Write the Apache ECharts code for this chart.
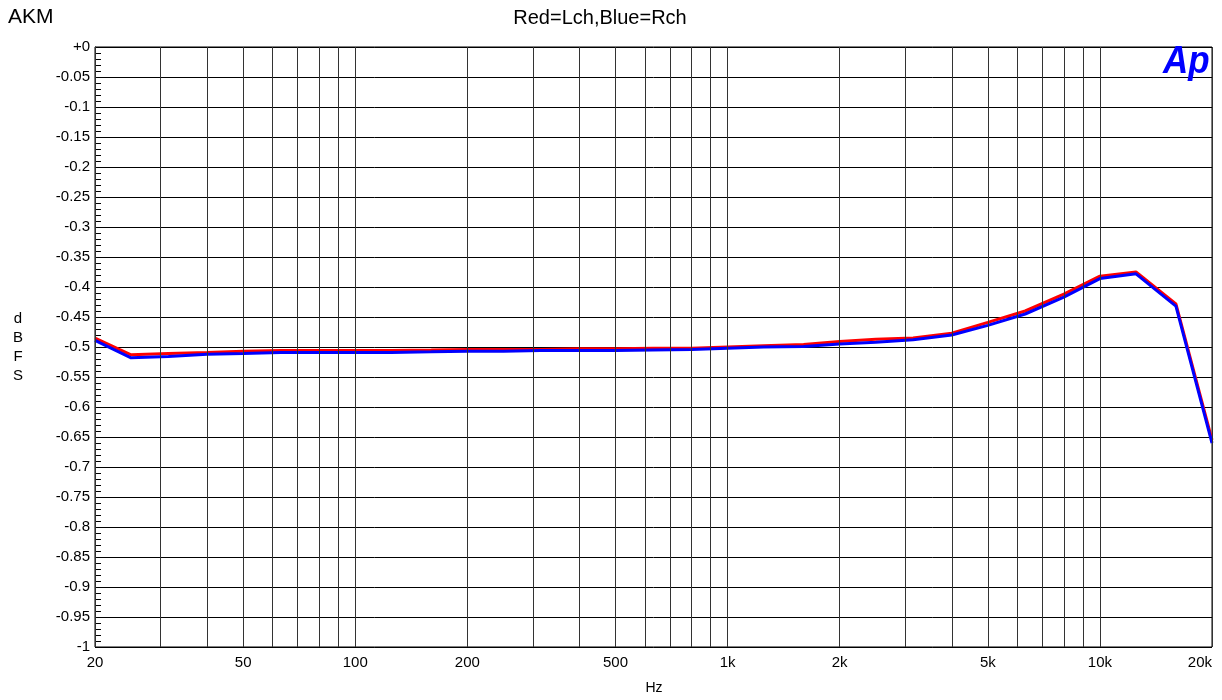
<!DOCTYPE html>
<html>
<head>
<meta charset="utf-8">
<script src="https://cdn.jsdelivr.net/npm/echarts@6/dist/echarts.min.js"></script>
<style>html,body{margin:0;padding:0;background:#fff;}#c{width:1222px;height:700px;}</style>
</head>
<body>
<div id="c"></div>
<script>
// Frequencies (Hz), 1/3-octave points
const freqs = [20,25,31.5,40,50,63,80,100,125,160,200,250,315,400,500,630,800,1000,1250,1600,2000,2500,3150,4000,5000,6300,8000,10000,12500,16000,20000];
// Red = Lch (dBFS)
const lch = [-0.485,-0.513,-0.511,-0.509,-0.507,-0.506,-0.506,-0.506,-0.506,-0.505,-0.504,-0.504,-0.504,-0.503,-0.503,-0.502,-0.502,-0.500,-0.498,-0.496,-0.491,-0.487,-0.485,-0.477,-0.459,-0.440,-0.412,-0.382,-0.375,-0.428,-0.655];
// Blue = Rch (dBFS)
const rch = [-0.489,-0.518,-0.516,-0.512,-0.511,-0.509,-0.509,-0.509,-0.509,-0.508,-0.507,-0.507,-0.506,-0.506,-0.506,-0.505,-0.504,-0.502,-0.500,-0.499,-0.495,-0.492,-0.488,-0.480,-0.464,-0.445,-0.417,-0.386,-0.378,-0.432,-0.660];
// Vertical grid frequencies
const gridFreqs = [20,30,40,50,60,70,80,90,100,200,300,400,500,600,700,800,900,1000,2000,3000,4000,5000,6000,7000,8000,9000,10000,20000];
// Labelled x ticks
const tickFreqs = [20,50,100,200,500,1000,2000,5000,10000,20000];
const tickTexts = ['20','50','100','200','500','1k','2k','5k','10k','20k'];

const chart = echarts.init(document.getElementById('c'), null, {renderer:'canvas'});
const font = 'Liberation Sans, Arial, sans-serif';
const zip = (xs, ys) => xs.map((x, i) => [x, ys[i]]);
const lastGrid = gridFreqs[gridFreqs.length - 1];

chart.setOption({
  animation: false,
  backgroundColor: '#fff',
  textStyle: {fontFamily: font},
  grid: {left: 95, right: 10, top: 47, bottom: 53, containLabel: false, outerBoundsMode: 'none',
         show: true, borderColor: '#000', borderWidth: 1, backgroundColor: 'transparent'},
  xAxis: {
    type: 'log', logBase: 10, min: 20, max: 20000,
    axisLine: {show: false}, axisTick: {show: false}, axisLabel: {show: false}, splitLine: {show: false}
  },
  yAxis: {
    type: 'value', min: -1, max: 0, interval: 0.05,
    axisLine: {show: true, lineStyle: {color: '#000', width: 1}},
    axisTick: {show: false, inside: true},
    minorTick: {show: true, splitNumber: 5, length: 6, lineStyle: {color: '#000', width: 1}},
    axisLabel: {
      color: '#000', fontSize: 15, fontFamily: font, margin: 5,
      formatter: v => (Math.abs(v) < 1e-9 ? '+0' : String(Math.round(v * 100) / 100))
    },
    splitLine: {show: true, lineStyle: {color: '#000', width: 1}}
  },
  series: [
    {
      type: 'line', name: 'grid', data: [], z: 1, silent: true,
      markLine: {
        silent: true, symbol: ['none', 'none'], animation: false,
        lineStyle: {color: '#333', width: 1, type: 'solid'},
        label: {
          show: true, position: 'start', distance: 8, color: '#000', fontSize: 15, fontFamily: font,
          formatter: p => { const i = tickFreqs.indexOf(p.value); return i >= 0 ? tickTexts[i] : ''; }
        },
        emphasis: {disabled: true},
        data: gridFreqs.map(f => (f === lastGrid ? {xAxis: f, label: {align: 'right'}} : {xAxis: f}))
      }
    },
    {
      type: 'line', name: 'Lch', data: zip(freqs, lch), showSymbol: false, symbol: 'none', z: 3,
      lineStyle: {color: '#ff0000', width: 3}, itemStyle: {color: '#ff0000'}
    },
    {
      type: 'line', name: 'Rch', data: zip(freqs, rch), showSymbol: false, symbol: 'none', z: 4,
      lineStyle: {color: '#0000ff', width: 3}, itemStyle: {color: '#0000ff'}
    }
  ],
  graphic: [
    {type: 'text', x: 8, y: 7, style: {text: 'AKM', fontSize: 21, fontFamily: font, fill: '#000'}},
    {type: 'text', x: 600, y: 8, style: {text: 'Red=Lch,Blue=Rch', fontSize: 20, align: 'center', fontFamily: font, fill: '#000'}},
    {type: 'text', x: 18, y: 309, style: {text: 'd\nB\nF\nS', fontSize: 15, lineHeight: 19.2, align: 'center', verticalAlign: 'top', fontFamily: font, fill: '#000'}},
    {type: 'text', x: 654, y: 688, style: {text: 'Hz', fontSize: 14, align: 'center', verticalAlign: 'middle', fontFamily: font, fill: '#000'}},
    {type: 'text', x: 1163, y: 44, z: 10, scaleX: 0.92, style: {text: 'Ap', fontSize: 38, fontWeight: 'bold', fontStyle: 'italic', fontFamily: font, fill: '#0000ff'}}
  ]
});
</script>
</body>
</html>
